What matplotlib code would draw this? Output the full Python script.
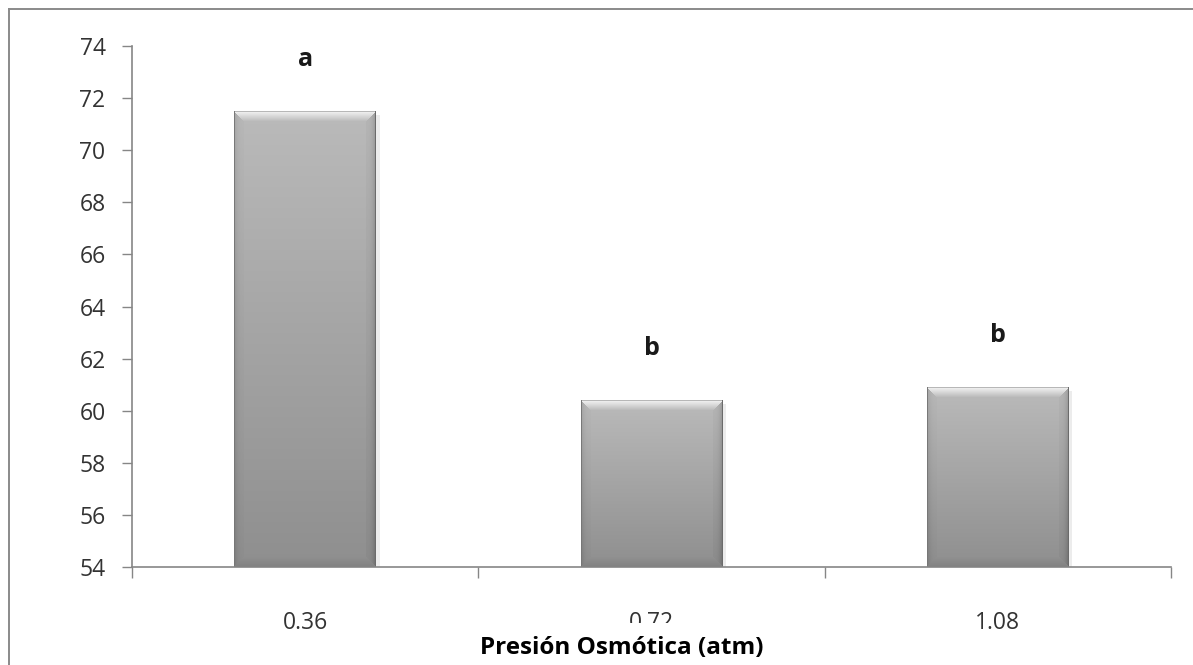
import numpy as np
import matplotlib
matplotlib.use("Agg")
import matplotlib.pyplot as plt
from matplotlib.lines import Line2D
from matplotlib.patches import Rectangle

plt.rcParams['font.family'] = ['Open Sans', 'DejaVu Sans']

categories = ["0.36", "0.72", "1.08"]
values = [71.5, 60.4, 60.9]
letters = ["a", "b", "b"]
yticks = [54, 56, 58, 60, 62, 64, 66, 68, 70, 72, 74]
xlabel = "Presión Osmótica (atm)"

W_PX, H_PX = 1193, 665
fig = plt.figure(figsize=(W_PX / 100, H_PX / 100), dpi=100)
ax = fig.add_axes([132 / W_PX, 1 - 567 / H_PX, (1171 - 132) / W_PX, (567 - 46) / H_PX])

ymin, ymax = 54, 74
x = np.arange(len(categories))
bw = 0.41
px_per_y = (567 - 46) / (ymax - ymin)

ax.bar(x, [v - ymin for v in values], bottom=ymin, width=bw,
       color="#a5a5a5", edgecolor="none", zorder=2)


def bevel_image(H, W, b=10):
    i = np.arange(H)[:, None] * np.ones((1, W))
    j = np.ones((H, 1)) * np.arange(W)[None, :]
    t = i / max(H - 1, 1)
    base = 0.73 + (0.56 - 0.73) * t
    d_top = i
    d_bot = H - 1 - i
    d_left = j
    d_right = W - 1 - j
    D = np.stack([d_top, d_bot, d_left, d_right])
    m = D.min(axis=0)
    which = D.argmin(axis=0)
    val = base.copy()
    inb = m < b
    f = 1 - m / b
    top = inb & (which == 0)
    val[top] = base[top] + (0.95 - base[top]) * f[top] ** 1.0
    bot = inb & (which == 1)
    val[bot] = base[bot] - 0.05 * f[bot]
    left = inb & (which == 2)
    val[left] = base[left] - 0.01 - 0.07 * f[left] ** 3
    right = inb & (which == 3)
    val[right] = base[right] - 0.02 - 0.11 * f[right] ** 3
    val[:, 0] = np.minimum(val[:, 0], 0.47)
    val[:, -1] = np.minimum(val[:, -1], 0.42)
    val[-1, :] = np.minimum(val[-1, :], 0.47)
    val[0, :] = np.minimum(val[0, :], 0.72)
    val = np.clip(val, 0, 1)
    return np.dstack([val, val, val])


for xi, v in zip(x, values):
    H = int(round((v - ymin) * px_per_y))
    img = bevel_image(H, 142)
    ax.imshow(img, extent=(xi - bw / 2, xi + bw / 2, ymin, v), aspect="auto",
              origin="upper", interpolation="bilinear", zorder=3)
    ax.add_patch(Rectangle((xi + bw / 2, ymin), 0.010, v - ymin - 0.15,
                           facecolor="#ececec", edgecolor="none", zorder=1.5))

for xi, v, l in zip(x, values, letters):
    ax.text(xi, v + 1.75, l, ha="center", va="baseline", fontsize=18,
            fontweight="bold", color="#1a1a1a", zorder=5)

ax.set_xlim(-0.5, len(categories) - 0.5)
ax.set_ylim(ymin, ymax)
ax.set_yticks(yticks)
ax.set_yticklabels([str(t) for t in yticks])

ax.set_xticks(np.arange(len(categories) + 1) - 0.5)
ax.set_xticklabels([])
ax.set_xticks(x, minor=True)
ax.set_xticklabels(categories, minor=True)
ax.tick_params(axis="x", which="major", length=8, width=1, color="#868686", direction="out")
ax.tick_params(axis="x", which="minor", length=0, pad=32, labelsize=16.5, labelcolor="#333333")
ax.tick_params(axis="y", length=7, width=1, color="#868686", direction="out",
               pad=12, labelsize=16.5, labelcolor="#333333")

for s in ["top", "right"]:
    ax.spines[s].set_visible(False)
for s in ["left", "bottom"]:
    ax.spines[s].set_color("#868686")
    ax.spines[s].set_linewidth(1.2)
    ax.spines[s].set_zorder(4)

fig.patches.append(Rectangle((455 / W_PX, 0), (790 - 455) / W_PX, (H_PX - 623) / H_PX,
                             transform=fig.transFigure, facecolor="white",
                             edgecolor="none", zorder=5))
fig.text(622 / W_PX, 1 - 648 / H_PX, xlabel, ha="center", va="center",
         fontsize=17.5, fontweight="bold", color="black", zorder=6)

fig.add_artist(Line2D([8.5 / W_PX, 1.01], [1 - 8.5 / H_PX, 1 - 8.5 / H_PX],
                      transform=fig.transFigure, color="#8a8a8a", lw=1.4))
fig.add_artist(Line2D([8.5 / W_PX, 8.5 / W_PX], [-0.01, 1 - 8.5 / H_PX],
                      transform=fig.transFigure, color="#8a8a8a", lw=1.4))

fig.savefig("out.png", dpi=100)
